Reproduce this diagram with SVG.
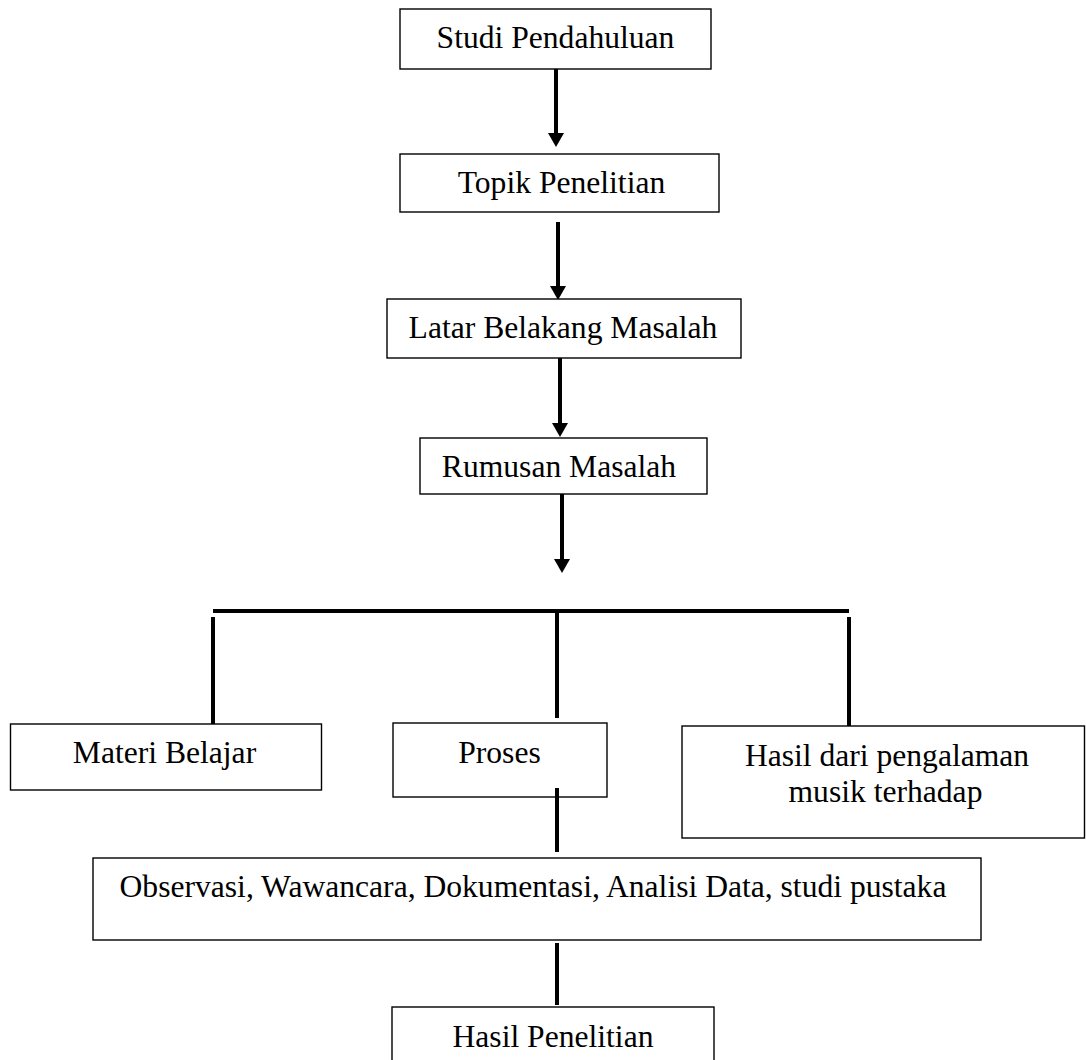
<svg xmlns="http://www.w3.org/2000/svg" width="1086" height="1060" viewBox="0 0 1086 1060">
  <style>
    .box { fill: #ffffff; stroke: #000000; stroke-width: 1.4; }
    .lbl { font-family: "Liberation Serif", "Times New Roman", serif; font-size: 31.6px; fill: #000000; text-anchor: middle; }
    .con { stroke: #000000; stroke-width: 4; fill: none; }
    .arr { stroke: #000000; stroke-width: 4; fill: none; marker-end: url(#ah); }
  </style>
  <defs>
    <marker id="ah" viewBox="0 0 14 16" refX="0" refY="8" markerWidth="14" markerHeight="16" markerUnits="userSpaceOnUse" orient="auto">
      <path d="M0,0 L14,8 L0,16 Z" fill="#000000"/>
    </marker>
  </defs>
  <rect width="1086" height="1060" fill="#ffffff"/>

  <g id="connectors">
    <line class="arr" x1="556" y1="69" x2="556" y2="133"/>
    <line class="arr" x1="558" y1="222" x2="558" y2="286"/>
    <line class="arr" x1="560" y1="358" x2="560" y2="423"/>
    <line class="arr" x1="562" y1="494" x2="562" y2="559"/>
    <line class="con" x1="213" y1="611" x2="849" y2="611"/>
    <line class="con" x1="213" y1="617" x2="213" y2="725"/>
    <line class="con" x1="557" y1="612" x2="557" y2="718"/>
    <line class="con" x1="849" y1="617" x2="849" y2="726"/>
    <line class="con" x1="557" y1="943" x2="557" y2="1005"/>
  </g>

  <g id="studi-pendahuluan">
    <rect class="box" x="400" y="9" width="311" height="60"/>
    <text class="lbl" x="555.5" y="48">Studi Pendahuluan</text>
  </g>
  <g id="topik-penelitian">
    <rect class="box" x="400" y="154" width="319" height="58"/>
    <text class="lbl" x="561.5" y="193">Topik Penelitian</text>
  </g>
  <g id="latar-belakang">
    <rect class="box" x="387" y="299" width="354" height="59"/>
    <text class="lbl" x="563" y="338">Latar Belakang Masalah</text>
  </g>
  <g id="rumusan-masalah">
    <rect class="box" x="420" y="438" width="287" height="56"/>
    <text class="lbl" x="559" y="477">Rumusan Masalah</text>
  </g>
  <g id="materi-belajar">
    <rect class="box" x="10.5" y="724" width="311" height="66"/>
    <text class="lbl" x="164.5" y="763">Materi Belajar</text>
  </g>
  <g id="proses">
    <rect class="box" x="393" y="723" width="214" height="74"/>
    <text class="lbl" x="499.5" y="763">Proses</text>
  </g>
  <g id="hasil-pengalaman">
    <rect class="box" x="682" y="726" width="402.5" height="112"/>
    <text class="lbl" x="887" y="766">Hasil dari pengalaman</text>
    <text class="lbl" x="885.5" y="802">musik terhadap</text>
  </g>
  <line class="con" x1="557" y1="788" x2="557" y2="852"/>
  <g id="observasi">
    <rect class="box" x="93" y="858" width="888" height="82"/>
    <text class="lbl" x="533" y="897">Observasi, Wawancara, Dokumentasi, Analisi Data, studi pustaka</text>
  </g>
  <g id="hasil-penelitian">
    <rect class="box" x="392" y="1007" width="322" height="60"/>
    <text class="lbl" x="553" y="1047">Hasil Penelitian</text>
  </g>
</svg>
